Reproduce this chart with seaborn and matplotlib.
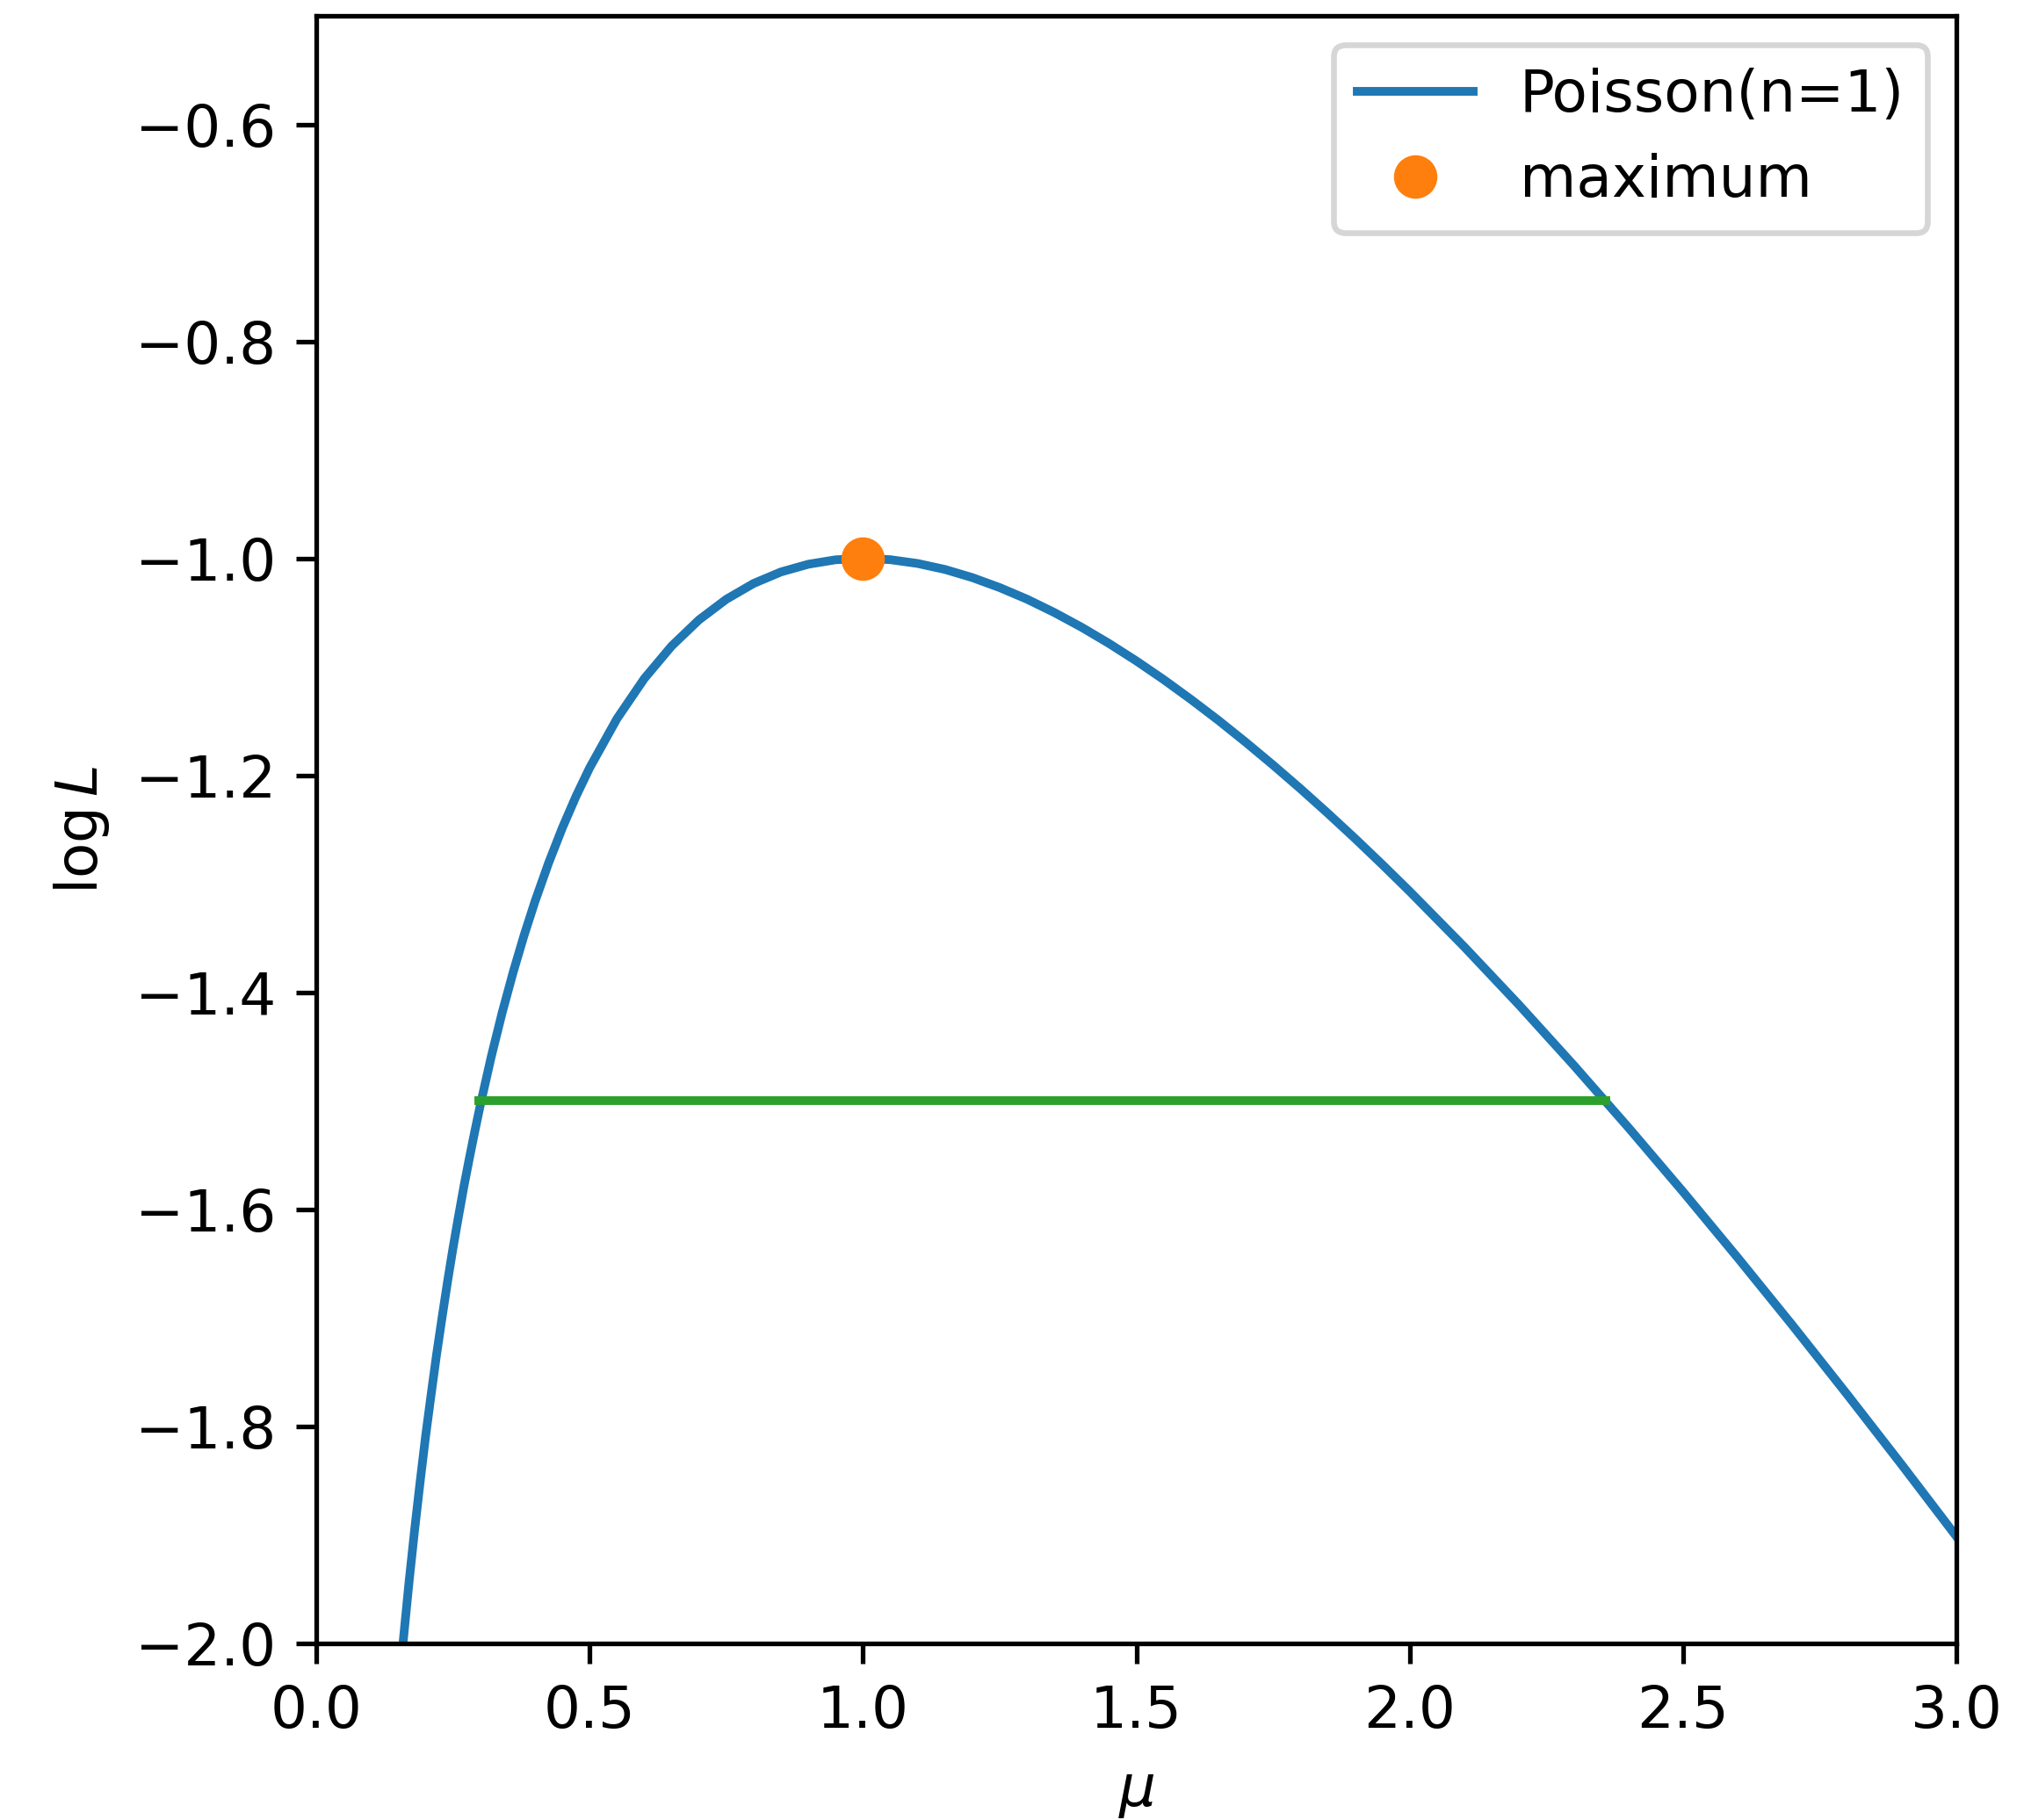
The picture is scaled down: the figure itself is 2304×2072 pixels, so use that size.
import matplotlib
matplotlib.use("Agg")
import matplotlib.pyplot as plt
import seaborn as sns
import pandas as pd

# Curve values
mu_values = [0.14, 0.15, 0.16, 0.17, 0.18, 0.19, 0.20, 0.21, 0.22, 0.23, 0.24, 0.25,
             0.26, 0.27, 0.28, 0.29, 0.30, 0.32, 0.34, 0.36, 0.38, 0.40, 0.425, 0.45,
             0.475, 0.50, 0.55, 0.60, 0.65, 0.70, 0.75, 0.80, 0.85, 0.90, 0.95, 1.00,
             1.05, 1.10, 1.15, 1.20, 1.25, 1.30, 1.35, 1.40, 1.45, 1.50, 1.55, 1.60,
             1.65, 1.70, 1.75, 1.80, 1.85, 1.90, 1.95, 2.00, 2.10, 2.20, 2.30, 2.40,
             2.50, 2.60, 2.70, 2.80, 2.90, 3.00]
logL_values = [-2.106, -2.047, -1.993, -1.942, -1.895, -1.851, -1.809, -1.771, -1.734,
               -1.700, -1.667, -1.636, -1.607, -1.579, -1.553, -1.528, -1.5040, -1.4594,
               -1.4188, -1.3817, -1.3476, -1.3163, -1.2807, -1.2485, -1.2194, -1.1931,
               -1.1478, -1.1108, -1.0808, -1.0567, -1.0377, -1.0231, -1.0125, -1.0054,
               -1.0013, -1.0000, -1.0012, -1.0047, -1.0102, -1.0177, -1.0269, -1.0376,
               -1.0499, -1.0635, -1.0784, -1.0945, -1.1117, -1.1300, -1.1492, -1.1694,
               -1.1904, -1.2122, -1.2348, -1.2581, -1.2822, -1.3069, -1.3581, -1.4115,
               -1.4671, -1.5245, -1.5837, -1.6445, -1.7067, -1.7704, -1.8353, -1.9014]

max_mu = [1.0]
max_logL = [-1.0]

interval_mu = [0.298, 2.359]
interval_logL = [-1.5, -1.5]

curve_label = "Poisson(n=1)"
max_label = "maximum"

df_curve = pd.DataFrame({"mu": mu_values, "logL": logL_values})
df_max = pd.DataFrame({"mu": max_mu, "logL": max_logL})
df_int = pd.DataFrame({"mu": interval_mu, "logL": interval_logL})

DPI = 475
fig = plt.figure(figsize=(2304 / DPI, 2072 / DPI), dpi=DPI)
ax = fig.add_axes([0.15625, 0.0970, 0.9666 - 0.15625, 0.9913 - 0.0970])

sns.lineplot(data=df_curve, x="mu", y="logL", ax=ax, color="#1f77b4",
             linewidth=1.5, label=curve_label, sort=False)
ax.plot(df_max["mu"], df_max["logL"], "o", color="#ff7f0e", markersize=6.5,
        label=max_label, zorder=3)
sns.lineplot(data=df_int, x="mu", y="logL", ax=ax, color="#2ca02c",
             linewidth=1.5, legend=False)

ax.set_xlim(0, 3.0)
ax.set_ylim(-2.0, -0.5)
ax.set_xticks([0.0, 0.5, 1.0, 1.5, 2.0, 2.5, 3.0])
ax.set_yticks([-2.0, -1.8, -1.6, -1.4, -1.2, -1.0, -0.8, -0.6])
ax.set_xlabel(r"$\mu$")
ax.set_ylabel(r"$\log L$")
ax.legend(loc="upper right")

fig.savefig("out.png", dpi=DPI)
